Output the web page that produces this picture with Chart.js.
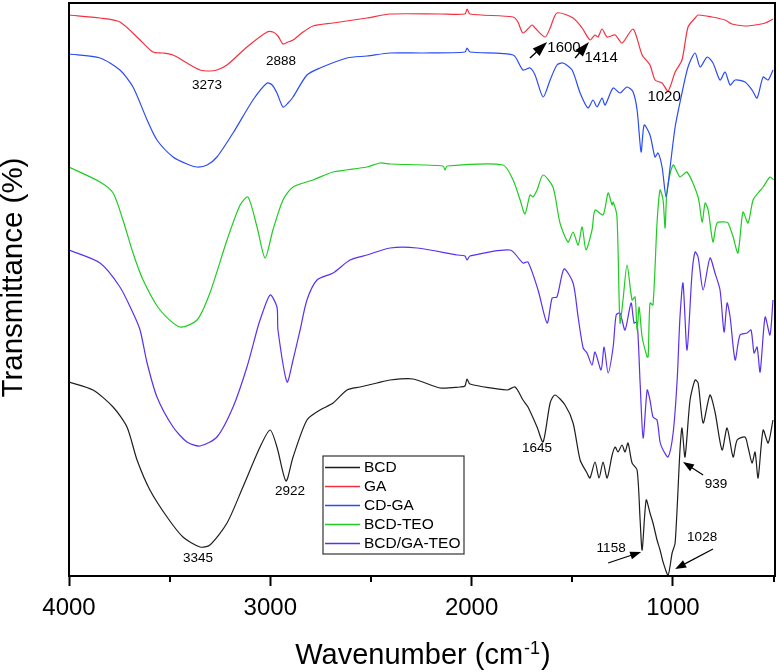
<!DOCTYPE html>
<html><head><meta charset="utf-8">
<script src="https://cdn.jsdelivr.net/npm/chart.js@4.4.1/dist/chart.umd.min.js"></script>
<style>html,body{margin:0;padding:0;background:#fff}#wrap{width:778px;height:672px}</style>
</head><body><div id="wrap"><canvas id="c" width="778" height="672"></canvas></div>
<script>
// ---- data (wavenumber in cm-1, transmittance in arbitrary offset units) ----
const seriesNames = ['BCD', 'GA', 'CD-GA', 'BCD-TEO', 'BCD/GA-TEO'];

const bcdWn = [4000,3881,3781,3712,3662,3598,3513,3434,3349,3300,3215,3136,3051,3001,2967,2922,2887,2818,2753,2688,2619,2554,2470,2405,2291,2157,2058,2033,2023,2008,1824,1784,1745,1720,1675,1645,1610,1586,1536,1496,1461,1427,1412,1387,1367,1347,1327,1302,1287,1273,1253,1238,1223,1203,1178,1163,1153,1133,1114,1099,1079,1064,1049,1024,1004,989,965,955,940,915,890,875,850,816,791,756,731,701,681,642,627,607,592,577,552,527,503];
const bcdT  = [194,186,169,149,116,86,59,39,29,31,53,89,129,146,129,95,119,156,166,173,186,189,193,196,197,188,189,190,197,192,186,189,176,169,149,134,173,181,171,153,116,103,98,114,98,114,98,121,129,124,131,124,133,113,106,56,26,76,63,53,36,26,14,1,23,33,126,148,119,176,196,193,153,181,164,126,148,119,136,139,129,113,124,98,146,133,156];

const gaWn = [4000,3846,3747,3647,3583,3533,3483,3414,3349,3300,3265,3215,3116,3016,2987,2962,2937,2912,2887,2837,2788,2688,2520,2405,2157,2033,2023,2008,1794,1770,1745,1700,1685,1635,1610,1576,1496,1451,1412,1387,1372,1352,1327,1287,1253,1198,1153,1114,1089,1054,1024,989,955,925,890,875,806,741,707,642,592,542,503];
const gaT  = [561,558,554,536,524,523,521,513,506,505,506,511,529,544,544,540,532,534,536,544,550,553,558,562,562,562,567,562,559,554,543,551,548,539,548,563,558,548,536,541,539,547,539,541,533,547,521,511,496,493,485,504,516,549,558,561,559,556,552,550,551,553,557];

const cdgaWn = [4000,3846,3747,3682,3612,3563,3483,3414,3364,3314,3265,3185,3086,3016,2991,2967,2937,2912,2887,2818,2753,2619,2520,2405,2241,2033,2023,2008,1794,1745,1710,1685,1645,1610,1576,1546,1501,1461,1422,1397,1377,1352,1337,1297,1263,1228,1198,1178,1158,1143,1114,1089,1074,1054,1034,1014,989,955,925,890,865,830,801,766,741,716,691,642,607,582,552,527,503];
const cdgaT  = [522,518,506,489,456,436,419,412,409,411,419,443,476,493,491,483,469,473,479,501,508,518,520,523,523,524,528,524,521,506,508,501,479,496,511,513,506,483,468,476,469,478,471,488,483,489,484,466,424,451,441,419,423,409,379,409,449,483,509,523,509,519,513,496,504,491,496,494,486,478,499,496,506];

const bcdteoWn = [4000,3846,3781,3732,3682,3632,3548,3449,3364,3300,3215,3150,3111,3066,3026,2987,2937,2887,2788,2688,2520,2455,2405,2142,2132,2122,1844,1794,1759,1735,1710,1695,1675,1645,1596,1561,1521,1496,1471,1451,1432,1402,1387,1347,1322,1302,1297,1278,1263,1248,1228,1203,1188,1178,1168,1153,1128,1123,1114,1099,1079,1064,1049,1039,1029,999,965,930,875,855,840,825,801,781,741,726,701,677,652,627,602,577,552,518,500];
const bcdteoT  = [409,394,383,356,323,296,266,249,256,283,336,371,379,349,318,346,376,389,396,404,409,413,412,410,406,410,411,396,376,362,381,379,386,401,389,353,334,344,331,349,326,346,366,361,383,371,374,359,253,276,311,276,279,246,269,239,219,219,273,271,353,386,376,348,386,411,399,404,379,354,373,366,334,353,354,353,339,323,364,353,376,383,389,399,396];

const bcdgateoWn = [4000,3846,3747,3682,3647,3612,3563,3483,3414,3349,3265,3185,3116,3066,3051,3001,2967,2962,2917,2887,2852,2818,2768,2688,2604,2520,2405,2271,2072,2033,2023,2008,1809,1745,1720,1670,1625,1600,1576,1541,1496,1471,1446,1427,1402,1387,1357,1342,1322,1297,1282,1263,1238,1208,1193,1178,1163,1148,1128,1114,1099,1079,1064,1049,1024,999,979,965,950,930,905,890,875,850,816,791,766,746,731,716,691,667,632,612,597,582,567,542,518,503];
const bcdgateoT  = [326,313,289,263,246,213,179,149,134,130,139,169,209,246,256,281,269,246,194,216,246,276,296,303,316,321,328,328,321,320,316,320,326,313,314,286,253,278,279,307,293,259,228,223,211,224,206,229,203,229,261,263,246,273,253,254,193,138,186,176,159,156,134,126,119,143,196,259,293,226,303,324,319,286,318,303,286,244,273,259,216,241,243,246,223,229,204,259,241,276];

const xTickValues = [4000, 3000, 2000, 1000];
const xMinorTickValues = [3500, 2500, 1500, 500];

// peak annotations (text, anchored in data space)
const peakLabels = [
  {text: '3273', wn: 3314, t: 491},
  {text: '2888', wn: 2947, t: 515},
  {text: '1600', wn: 1541, t: 528, big: true},
  {text: '1414', wn: 1357, t: 518, big: true},
  {text: '1020', wn: 1044, t: 479, big: true},
  {text: '1645', wn: 1675, t: 128},
  {text: '2922', wn: 2902, t: 85},
  {text: '3345', wn: 3359, t: 18},
  {text: '939',  wn: 786,  t: 92},
  {text: '1028', wn: 855,  t: 39},
  {text: '1158', wn: 1307, t: 28}
];
const peakArrows = [
  {from: [1710, 518], to: [1625, 534], big: true},
  {from: [1486, 518], to: [1417, 534], big: true},
  {from: [850, 101],  to: [950, 114]},
  {from: [801, 27],   to: [989, 7]},
  {from: [1322, 13],  to: [1158, 24]}
];

// ---- drawing ----
const FONT = '"Liberation Sans", Arial, Helvetica, sans-serif';
const colors = ['#1e1e1e', '#f5303f', '#2b4bf5', '#1fcc22', '#5a30f0'];
const wnSets = [bcdWn, gaWn, cdgaWn, bcdteoWn, bcdgateoWn];
const tSets = [bcdT, gaT, cdgaT, bcdteoT, bcdgateoT];

const datasets = seriesNames.map((name, i) => ({
  label: name,
  data: wnSets[i].map((w, k) => ({x: w, y: tSets[i][k]})),
  borderColor: colors[i],
  backgroundColor: colors[i],
  borderWidth: 1.2,
  pointRadius: 0,
  tension: 0.25,
  fill: false
}));

function drawArrow(ctx, x1, y1, x2, y2, hl, hw, lw) {
  const a = Math.atan2(y2 - y1, x2 - x1);
  const c = Math.cos(a), s = Math.sin(a);
  ctx.lineWidth = lw;
  ctx.beginPath();
  ctx.moveTo(x1, y1);
  ctx.lineTo(x2 - c * hl * 0.8, y2 - s * hl * 0.8);
  ctx.stroke();
  ctx.beginPath();
  ctx.moveTo(x2, y2);
  ctx.lineTo(x2 - hl * c + hw / 2 * s, y2 - hl * s - hw / 2 * c);
  ctx.lineTo(x2 - hl * c - hw / 2 * s, y2 - hl * s + hw / 2 * c);
  ctx.closePath();
  ctx.fill();
}

const decorPlugin = {
  id: 'decor',
  afterDraw(chart) {
    const ctx = chart.ctx;
    const ca = chart.chartArea;
    const xs = chart.scales.x, ys = chart.scales.y;
    ctx.save();
    // frame
    ctx.strokeStyle = '#000';
    ctx.lineWidth = 2;
    ctx.strokeRect(ca.left, ca.top, ca.right - ca.left, ca.bottom - ca.top);
    // minor ticks
    xMinorTickValues.forEach(v => {
      const px = Math.round(xs.getPixelForValue(v));
      ctx.beginPath();
      ctx.moveTo(px, ca.bottom);
      ctx.lineTo(px, ca.bottom + 6);
      ctx.stroke();
    });
    // axis titles
    ctx.fillStyle = '#000';
    ctx.textBaseline = 'alphabetic';
    const main = 'Wavenumber (cm';
    const sup = '-1';
    const tail = ')';
    ctx.font = '29px ' + FONT;
    const w1 = ctx.measureText(main).width;
    const w3 = ctx.measureText(tail).width;
    ctx.font = '18px ' + FONT;
    const w2 = ctx.measureText(sup).width;
    const cx = (ca.left + ca.right) / 2;
    let x0 = cx - (w1 + w2 + w3) / 2;
    const by = ca.bottom + 88;
    ctx.textAlign = 'left';
    ctx.font = '29px ' + FONT;
    ctx.fillText(main, x0, by);
    ctx.font = '18px ' + FONT;
    ctx.fillText(sup, x0 + w1 + 1, by - 10);
    ctx.font = '29px ' + FONT;
    ctx.fillText(tail, x0 + w1 + w2 + 2, by);

    ctx.save();
    ctx.translate(ca.left - 55, (ca.top + ca.bottom) / 2 - 12);
    ctx.rotate(-Math.PI / 2);
    ctx.textAlign = 'center';
    ctx.textBaseline = 'middle';
    ctx.font = '29.5px ' + FONT;
    ctx.fillText('Transmittance (%)', 0, 0);
    ctx.restore();

    // peak labels
    ctx.textAlign = 'center';
    ctx.textBaseline = 'middle';
    peakLabels.forEach(p => {
      ctx.font = (p.big ? '15px ' : '13.5px ') + FONT;
      ctx.fillText(p.text, xs.getPixelForValue(p.wn), ys.getPixelForValue(p.t));
    });
    ctx.strokeStyle = '#000';
    ctx.fillStyle = '#000';
    peakArrows.forEach(a => {
      const x1 = xs.getPixelForValue(a.from[0]), y1 = ys.getPixelForValue(a.from[1]);
      const x2 = xs.getPixelForValue(a.to[0]), y2 = ys.getPixelForValue(a.to[1]);
      if (a.big) drawArrow(ctx, x1, y1, x2, y2, 15, 10, 1.4);
      else drawArrow(ctx, x1, y1, x2, y2, 11, 8, 1.2);
    });

    // legend
    const lx = ca.left + 254, ly = ca.top + 453, lw = 141, lh = 98;
    ctx.fillStyle = '#fff';
    ctx.fillRect(lx, ly, lw, lh);
    ctx.strokeStyle = '#333';
    ctx.lineWidth = 1.2;
    ctx.strokeRect(lx, ly, lw, lh);
    ctx.font = '15.5px ' + FONT;
    ctx.textAlign = 'left';
    ctx.textBaseline = 'middle';
    chart.data.datasets.forEach((ds, i) => {
      const ry = ly + 11.5 + i * 19;
      ctx.strokeStyle = ds.borderColor;
      ctx.lineWidth = 1.5;
      ctx.beginPath();
      ctx.moveTo(lx + 2, ry);
      ctx.lineTo(lx + 37, ry);
      ctx.stroke();
      ctx.fillStyle = '#000';
      ctx.fillText(ds.label, lx + 41, ry + 0.5);
    });
    ctx.restore();
  }
};

new Chart(document.getElementById('c'), {
  type: 'line',
  data: {datasets},
  plugins: [decorPlugin],
  options: {
    responsive: false,
    devicePixelRatio: 1,
    animation: false,
    layout: {padding: {left: 0, right: 3, top: 3, bottom: 0}},
    plugins: {legend: {display: false}, tooltip: {enabled: false}},
    scales: {
      x: {
        type: 'linear',
        reverse: true,
        min: 493,
        max: 4000,
        afterBuildTicks: s => { s.ticks = xTickValues.map(v => ({value: v})); },
        afterFit: s => { s.height = 96; },
        ticks: {
          autoSkip: false, maxRotation: 0, color: '#000', padding: 8,
          font: {size: 24, family: FONT},
          callback: v => String(v)
        },
        grid: {drawOnChartArea: false, tickLength: 10, tickWidth: 2, tickColor: '#000'},
        border: {display: true, color: '#000', width: 2}
      },
      y: {
        type: 'linear',
        min: 0,
        max: 573,
        afterFit: s => { s.width = 69; },
        ticks: {display: false},
        grid: {display: false, drawTicks: false},
        border: {display: true, color: '#000', width: 2}
      }
    }
  }
});
</script>
</body></html>
